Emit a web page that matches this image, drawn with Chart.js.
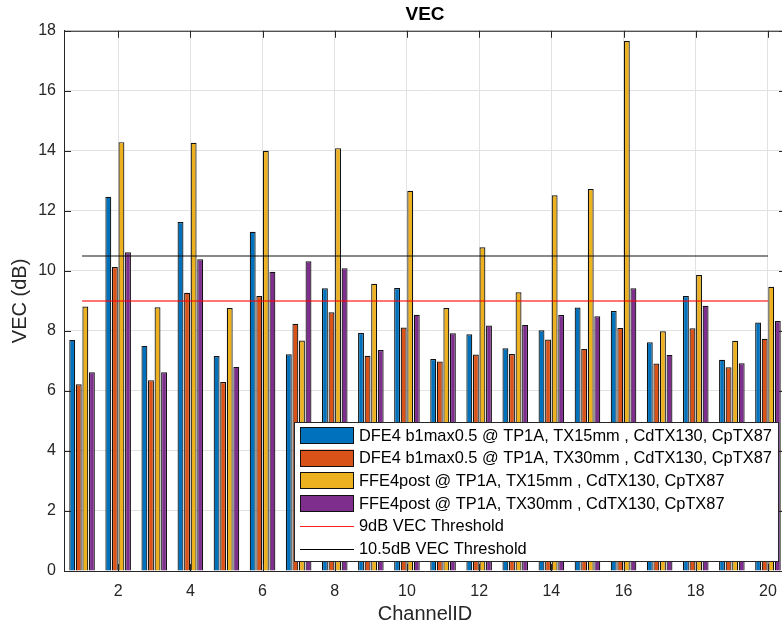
<!DOCTYPE html>
<html>
<head>
<meta charset="utf-8">
<script src="https://cdn.jsdelivr.net/npm/chart.js@4/dist/chart.umd.min.js"></script>
<style>
  html, body { margin: 0; padding: 0; background: #fff; overflow: hidden; width: 782px; height: 626px; }
  #wrap { position: absolute; left: 0; top: 0; width: 792px; height: 626px; }
</style>
</head>
<body>
<div id="wrap"><canvas id="vec" width="792" height="626"></canvas></div>
<script>
// Channel IDs on the x axis
const channelIds = [1, 2, 3, 4, 5, 6, 7, 8, 9, 10, 11, 12, 13, 14, 15, 16, 17, 18, 19, 20];

// VEC (dB) per channel for each equalizer / trace-length configuration
const dfeTx15 = [7.70, 12.47, 7.50, 11.63, 7.16, 11.30, 7.22, 9.42, 7.93, 9.43, 7.06, 7.89, 7.42, 8.02, 8.78, 8.66, 7.62, 9.16, 7.04, 8.28];
const dfeTx30 = [6.22, 10.13, 6.36, 9.27, 6.30, 9.16, 8.24, 8.62, 7.17, 8.11, 6.98, 7.21, 7.23, 7.71, 7.40, 8.10, 6.91, 8.09, 6.79, 7.74];
const ffeTx15 = [8.81, 14.29, 8.79, 14.27, 8.76, 14.00, 7.68, 14.09, 9.57, 12.67, 8.76, 10.79, 9.29, 12.52, 12.73, 17.66, 7.99, 9.86, 7.67, 9.47];
const ffeTx30 = [6.62, 10.62, 6.62, 10.39, 6.80, 9.97, 10.32, 10.09, 7.36, 8.54, 7.92, 8.18, 8.20, 8.53, 8.49, 9.42, 7.20, 8.84, 6.92, 8.33];

// Pass/fail thresholds (dB)
const threshold9 = 9;
const threshold105 = 10.5;

// Y axis ticks
const yTicks = [0, 2, 4, 6, 8, 10, 12, 14, 16, 18];

const FONT = "'Liberation Sans', Arial, Helvetica, sans-serif";
const AXIS_COLOR = '#262626';
const GRID_COLOR = '#e2e2e2';
const TICK_LEN = 7;
const RED_LINE = 'rgba(255,0,0,0.72)';
const BLACK_LINE = 'rgba(0,0,0,0.62)';

const flatLine = v => channelIds.map(() => v);

// Inward tick marks on all four sides plus the top/right frame lines
const frameTicks = {
  id: 'frameTicks',
  afterDatasetsDraw(chart) {
    const { ctx, chartArea: a, scales: { x, y } } = chart;
    ctx.save();
    ctx.strokeStyle = AXIS_COLOR;
    ctx.lineWidth = 1;
    ctx.beginPath();
    ctx.moveTo(a.left, a.top + 0.5); ctx.lineTo(a.right, a.top + 0.5);
    ctx.moveTo(a.right - 0.5, a.top); ctx.lineTo(a.right - 0.5, a.bottom);
    x.ticks.forEach((t, i) => {
      if (channelIds[i] % 2 !== 0) return;
      const px = Math.round(x.getPixelForTick(i)) + 0.5;
      ctx.moveTo(px, a.top); ctx.lineTo(px, a.top + TICK_LEN);
      ctx.moveTo(px, a.bottom); ctx.lineTo(px, a.bottom - TICK_LEN);
    });
    yTicks.forEach(v => {
      const py = Math.round(y.getPixelForValue(v)) + 0.5;
      ctx.moveTo(a.left, py); ctx.lineTo(a.left + TICK_LEN, py);
      ctx.moveTo(a.right, py); ctx.lineTo(a.right - TICK_LEN, py);
    });
    ctx.stroke();
    ctx.restore();
  }
};

// Boxed legend sitting inside the lower right of the plot
const boxLegend = {
  id: 'boxLegend',
  afterDraw(chart) {
    const { ctx } = chart;
    const box = { left: 294.5, top: 422.5, right: 778.5, bottom: 561.5 };
    const rowH = 22.7;
    const firstRow = 435;
    ctx.save();
    ctx.fillStyle = '#ffffff';
    ctx.strokeStyle = AXIS_COLOR;
    ctx.lineWidth = 1;
    ctx.fillRect(box.left, box.top, box.right - box.left, box.bottom - box.top);
    ctx.strokeRect(box.left, box.top, box.right - box.left, box.bottom - box.top);
    ctx.font = '16.4px ' + FONT;
    ctx.textBaseline = 'middle';
    ctx.textAlign = 'left';
    chart.data.datasets.forEach((ds, i) => {
      const cy = firstRow + i * rowH;
      if (ds.type === 'line') {
        ctx.strokeStyle = ds.legendColor;
        ctx.lineWidth = 1;
        ctx.beginPath();
        ctx.moveTo(300, Math.round(cy) + 0.5);
        ctx.lineTo(354, Math.round(cy) + 0.5);
        ctx.stroke();
      } else {
        ctx.fillStyle = ds.backgroundColor;
        ctx.fillRect(300, cy - 8, 54, 16.5);
        ctx.strokeStyle = '#111';
        ctx.lineWidth = 1;
        ctx.strokeRect(300.5, Math.round(cy - 8) + 0.5, 53, 16);
      }
      ctx.fillStyle = '#000';
      ctx.fillText(ds.label, 359, cy + 1);
    });
    ctx.restore();
  }
};

const barStyle = color => ({
  backgroundColor: color,
  borderColor: '#111111',
  borderWidth: 1.2,
  categoryPercentage: 0.727,
  barPercentage: 0.9
});

new Chart(document.getElementById('vec'), {
  type: 'bar',
  data: {
    labels: channelIds.map(String),
    datasets: [
      { label: 'DFE4 b1max0.5 @ TP1A, TX15mm , CdTX130, CpTX87', data: dfeTx15, ...barStyle('#0072BD') },
      { label: 'DFE4 b1max0.5 @ TP1A, TX30mm , CdTX130, CpTX87', data: dfeTx30, ...barStyle('#D95319') },
      { label: 'FFE4post @ TP1A, TX15mm , CdTX130, CpTX87', data: ffeTx15, ...barStyle('#EDB120') },
      { label: 'FFE4post @ TP1A, TX30mm , CdTX130, CpTX87', data: ffeTx30, ...barStyle('#7E2F8E') },
      { type: 'line', label: '9dB VEC Threshold', data: flatLine(threshold9), borderColor: RED_LINE, legendColor: '#ff2020', borderWidth: 1.5, pointRadius: 0, order: -1 },
      { type: 'line', label: '10.5dB VEC Threshold', data: flatLine(threshold105), borderColor: BLACK_LINE, legendColor: '#000000', borderWidth: 1.5, pointRadius: 0, order: -1 }
    ]
  },
  options: {
    responsive: false,
    animation: false,
    layout: { padding: { left: 0, right: 6, top: 0, bottom: 0 } },
    plugins: {
      legend: { display: false },
      tooltip: { enabled: false },
      title: {
        display: true,
        fullSize: false,
        text: 'VEC',
        color: '#000',
        font: { family: FONT, size: 19, weight: 'bold' },
        padding: { top: 3, bottom: 5 }
      }
    },
    scales: {
      x: {
        offset: true,
        grid: {
          offset: false,
          drawTicks: false,
          color: ctx => (channelIds[ctx.index] % 2 === 0 ? GRID_COLOR : 'rgba(0,0,0,0)')
        },
        border: { color: AXIS_COLOR, width: 1 },
        ticks: {
          autoSkip: false,
          maxRotation: 0,
          padding: 11,
          color: AXIS_COLOR,
          font: { family: FONT, size: 16 },
          callback: (v, i) => (channelIds[i] % 2 === 0 ? String(channelIds[i]) : '')
        },
        title: { display: true, text: 'ChannelID', color: AXIS_COLOR, font: { family: FONT, size: 20 }, padding: { top: 0, bottom: 0 } },
        afterFit: s => { s.height = 55; }
      },
      y: {
        min: 0,
        max: 18,
        grid: { drawTicks: false, color: GRID_COLOR },
        border: { color: AXIS_COLOR, width: 1 },
        ticks: { stepSize: 2, padding: 8, color: AXIS_COLOR, font: { family: FONT, size: 16 } },
        title: { display: true, text: 'VEC (dB)', color: AXIS_COLOR, font: { family: FONT, size: 20 }, padding: { top: 8, bottom: 0 } },
        afterFit: s => { s.width = 64; }
      }
    }
  },
  plugins: [frameTicks, boxLegend]
});
</script>
</body>
</html>
